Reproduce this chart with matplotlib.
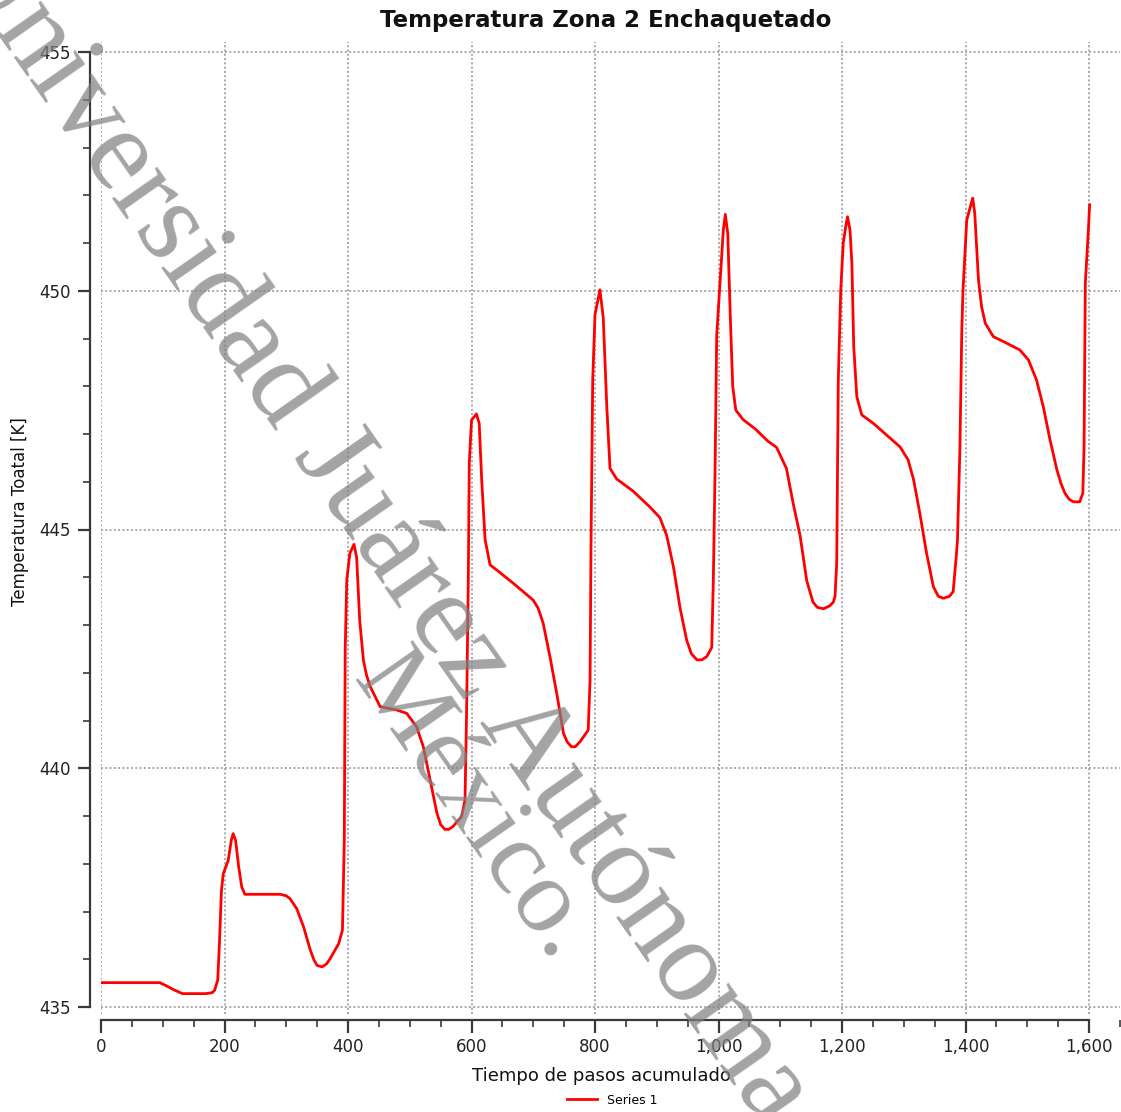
import matplotlib
matplotlib.use("Agg")
import matplotlib.pyplot as plt
from matplotlib.ticker import MultipleLocator, FuncFormatter

# ---- data ----
tiempo = [0, 95, 105, 118, 132, 170, 180, 184, 189, 192, 195, 198, 206, 211, 214, 218, 223, 228, 233,
          258, 290, 300, 306, 317, 328, 339, 345, 350, 358, 365, 371, 385, 391, 394, 395.5, 398, 403, 409.7,
          414, 419, 425, 430, 436, 452, 479, 495, 511, 522, 533, 544, 550, 557, 563, 570, 584, 589.5, 592,
          594.8, 596.4, 600, 608, 612.5, 616.5, 622, 630, 641, 668, 700, 708, 716, 727, 738, 749,
          755, 762, 768, 776, 789, 792, 793.5, 796.3, 800, 808, 813.4, 819, 824.3, 835, 862, 889, 905,
          916, 927, 938, 948.5, 956, 965, 973, 981, 989, 991.6, 994.3, 997.1, 1002.4, 1007.8, 1011,
          1015, 1019, 1023, 1028, 1040, 1060, 1080, 1094, 1110, 1121, 1132, 1143, 1153,
          1160, 1170, 1180, 1186, 1188.7, 1191.4, 1194, 1198, 1202, 1206, 1209, 1213, 1216,
          1219, 1224, 1232, 1251, 1272, 1294, 1307, 1316, 1326, 1337, 1348, 1356, 1364, 1374,
          1380, 1385, 1387, 1391, 1394, 1396, 1402, 1411.6, 1415, 1421, 1426, 1432, 1445,
          1467, 1488, 1502, 1515, 1526, 1537, 1548, 1555, 1561, 1568, 1575, 1585, 1590, 1592, 1594, 1599,
          1601]
temperatura = [435.51, 435.51, 435.45, 435.36, 435.28, 435.28, 435.30, 435.35, 435.56, 436.40, 437.44, 437.79,
               438.07, 438.49, 438.63, 438.49, 437.93, 437.51, 437.36, 437.36, 437.36, 437.33, 437.27,
               437.06, 436.68, 436.19, 435.98, 435.87, 435.84, 435.90, 436.01, 436.33, 436.61, 438.5, 442.5,
               443.94, 444.5, 444.69, 444.41, 443.09, 442.26, 441.95, 441.71, 441.29, 441.22, 441.15,
               440.87, 440.45, 439.76, 439.06, 438.82, 438.72, 438.72, 438.78, 438.99, 439.34, 441.15, 443.94,
               446.39, 447.29, 447.42, 447.22, 446.04, 444.79, 444.26, 444.15, 443.87, 443.52, 443.35,
               443.04, 442.34, 441.57, 440.73, 440.55, 440.45, 440.45, 440.56, 440.80, 441.85, 444.64, 448.13,
               449.5, 450.02, 449.43, 447.6, 446.28, 446.06, 445.80, 445.47, 445.25, 444.88,
               444.22, 443.34, 442.68, 442.40, 442.27, 442.27, 442.34, 442.53, 443.92, 446.13, 449.07, 450.17,
               451.27, 451.6, 451.2, 449.5, 448.0, 447.5, 447.3, 447.1, 446.85, 446.72, 446.28,
               445.54, 444.88, 443.92, 443.48, 443.37, 443.34, 443.40, 443.48, 443.60, 444.29,
               448.13, 450.02, 451.0, 451.34, 451.55, 451.27, 450.57, 448.83, 447.78, 447.40,
               447.22, 446.98, 446.73, 446.46, 446.04, 445.34, 444.50, 443.80, 443.60, 443.56,
               443.60, 443.70, 444.43, 444.78, 446.73, 449.18, 450.02, 451.48, 451.94, 451.62,
               450.23, 449.67, 449.32, 449.04, 448.90, 448.76, 448.55, 448.13, 447.57, 446.87,
               446.25, 445.95, 445.76, 445.63, 445.58, 445.58, 445.76, 446.73, 450.15, 451.27, 451.8]

x_ticks = [0, 200, 400, 600, 800, 1000, 1200, 1400, 1600]
y_ticks = [435, 440, 445, 450, 455]

titulo = "Temperatura Zona 2 Enchaquetado"
etiqueta_x = "Tiempo de pasos acumulado"
etiqueta_y = "Temperatura Toatal [K]"
serie = "Series 1"
marca_agua_1 = "Universidad Juárez Autónoma"
marca_agua_2 = "México."

W, H = 1121, 1112
fig = plt.figure(figsize=(W / 100, H / 100), dpi=100)
fig.patch.set_facecolor("white")

# axes: x 0 at px 101, 1600 at px 1089 ; y 435 at px 1007, 455 at px 52
xmin, xmax = 0, 1650
ymin, ymax = 434.85, 455.2
px_per_x = (1089 - 101) / 1600.0
px_per_y = (1007 - 52) / 20.0
left_px = 101
right_px = 101 + (xmax - 0) * px_per_x
top_px = 52 - (ymax - 455) * px_per_y
bot_px = 1007 + (435 - ymin) * px_per_y
ax = fig.add_axes([left_px / W, 1 - bot_px / H, (right_px - left_px) / W, (bot_px - top_px) / H])

ax.plot(tiempo, temperatura, color="#ff0000", lw=2.0, solid_joinstyle="round", zorder=3,
        label=serie, clip_on=True)

ax.set_xlim(xmin, xmax)
ax.set_ylim(ymin, ymax)

ax.set_xticks(x_ticks)
ax.set_yticks(y_ticks)
ax.xaxis.set_minor_locator(MultipleLocator(50))
ax.yaxis.set_minor_locator(MultipleLocator(1))
ax.xaxis.set_major_formatter(FuncFormatter(lambda v, p: f"{int(v):,}"))
ax.yaxis.set_major_formatter(FuncFormatter(lambda v, p: f"{int(v)}"))

for s in ["top", "right"]:
    ax.spines[s].set_visible(False)
ax.spines["left"].set_position(("outward", 8))
ax.spines["bottom"].set_position(("outward", 4))
ax.spines["left"].set_bounds(435, 455)
ax.spines["bottom"].set_bounds(0, 1600)
for s in ["left", "bottom"]:
    ax.spines[s].set_color("#3a3a3a")
    ax.spines[s].set_linewidth(1.6)

ax.tick_params(axis="both", which="major", direction="out", length=9, width=1.6,
               color="#3a3a3a", labelsize=12, labelcolor="#222222")
ax.tick_params(axis="both", which="minor", direction="out", length=5, width=1.2,
               color="#3a3a3a")
ax.tick_params(axis="y", which="major", pad=5)
ax.tick_params(axis="x", which="major", pad=4)

ax.grid(True, which="major", linestyle=(0, (1, 1.2)), color="#a8a8a8", linewidth=1.4)
ax.set_axisbelow(True)

fig.text(606 / W, 1 - 20 / H, titulo, ha="center", va="center", fontsize=16.5,
         fontweight="bold", color="#111111")
fig.text(20 / W, 1 - 512 / H, etiqueta_y, ha="center", va="center", rotation=90,
         fontsize=12, color="#111111")
fig.text(601 / W, 1 - 1076 / H, etiqueta_x, ha="center", va="center", fontsize=13,
         color="#111111")

fig.legend(loc="center", bbox_to_anchor=(612 / W, 1 - 1100 / H), frameon=False,
           fontsize=9, handlelength=2.4, borderpad=0, handletextpad=0.8)

# watermark
wm = dict(rotation=-55, rotation_mode="anchor", ha="center", va="center",
          family="Liberation Serif", color="#808080", alpha=0.72, zorder=10)
fig.text(378 / W, 1 - 528 / H, marca_agua_1, fontsize=85, **wm)
fig.text(472 / W, 1 - 808 / H, marca_agua_2, fontsize=76, **wm)

fig.savefig("out.png", dpi=100, facecolor="white")
